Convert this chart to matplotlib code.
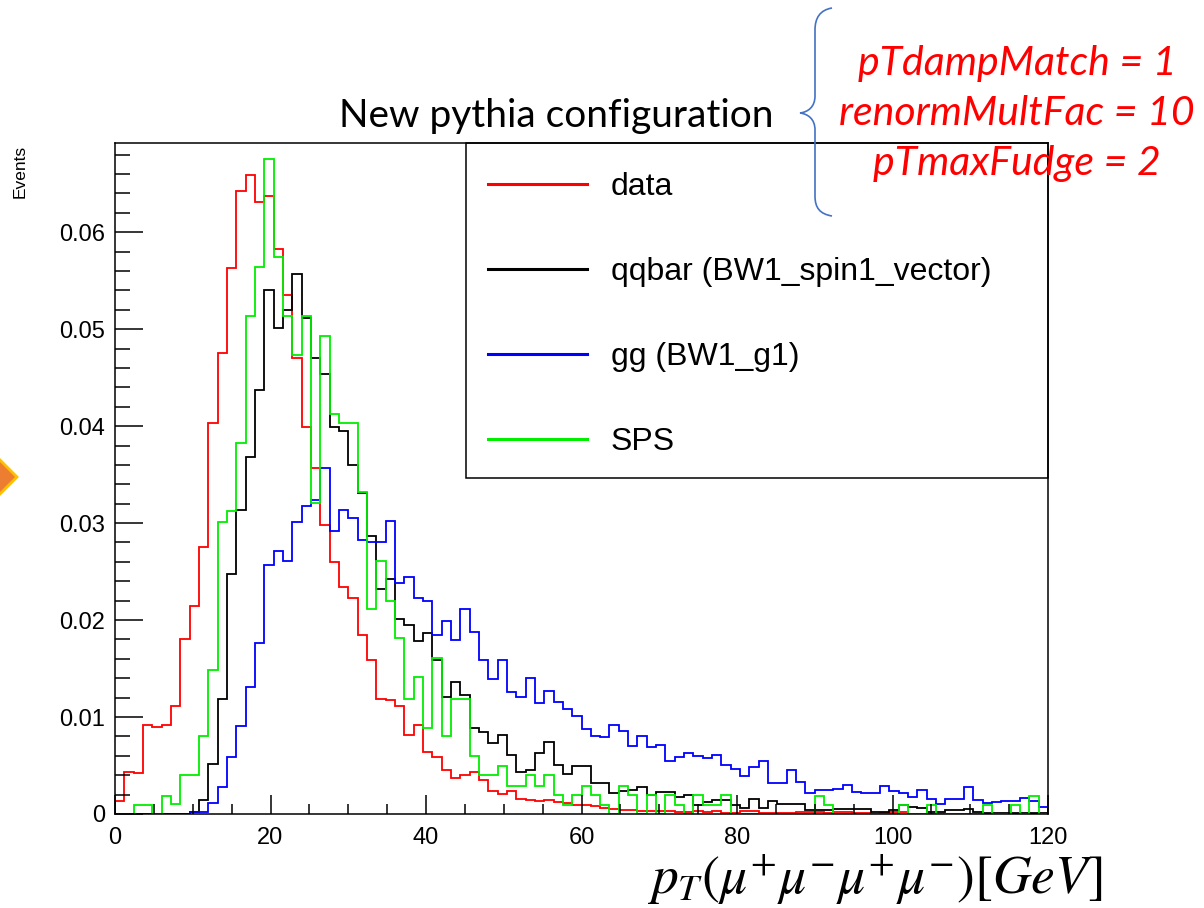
import numpy as np
import matplotlib
matplotlib.use("Agg")
import matplotlib.pyplot as plt
from matplotlib.lines import Line2D
from matplotlib.patches import Rectangle, Polygon, PathPatch
from matplotlib.path import Path
from matplotlib.ticker import MultipleLocator, FuncFormatter

plt.rcParams['font.family'] = ['Liberation Sans', 'DejaVu Sans']
plt.rcParams['mathtext.fontset'] = 'stix'

# 100 bins of 1.2 GeV between 0 and 120 GeV
bin_edges = np.linspace(0, 120, 101)

data = [
    0.0013, 0.0043, 0.0042, 0.0092, 0.0090, 0.0092, 0.0111, 0.0180, 0.0214, 0.0275,
    0.0403, 0.0475, 0.0563, 0.0643, 0.0659, 0.0631, 0.0637, 0.0583, 0.0535, 0.0470,
    0.0399, 0.0357, 0.0298, 0.0260, 0.0234, 0.0223, 0.0185, 0.0159, 0.0119, 0.0118,
    0.0111, 0.0081, 0.0092, 0.0064, 0.0059, 0.0045, 0.0037, 0.0040, 0.0043, 0.0035,
    0.0024, 0.0021, 0.0024, 0.0015, 0.0014, 0.0013, 0.0014, 0.0012, 0.0011, 0.0009,
    0.0009, 0.0008, 0.0006, 0.0005, 0.0004, 0.0004, 0.0003, 0.0003, 0.0003, 0.0003,
    0.0002, 0.0002, 0.0003, 0.0002, 0.0003, 0.0001, 0.0001, 0.0003, 0.0003, 0.0001,
    0.0001, 0.0001, 0.0001, 0.0002, 0.0002, 0.0002, 0.0001, 0.0002, 0.0002, 0.0001,
    0.0001, 0.0, 0.0001, 0.0002, 0.0002, 0.0, 0.0, 0.0, 0.0, 0.0,
    0.0, 0.0, 0.0, 0.0, 0.0, 0.0, 0.0, 0.0, 0.0, 0.0,
]

qqbar = [
    0.0, 0.0, 0.0, 0.0, 0.0, 0.0, 0.0, 0.0, 0.0002, 0.0014,
    0.0052, 0.0119, 0.0247, 0.0313, 0.0368, 0.0437, 0.0540, 0.0501, 0.0520, 0.0557,
    0.0512, 0.0470, 0.0454, 0.0399, 0.0395, 0.0360, 0.0331, 0.0287, 0.0232, 0.0242,
    0.0201, 0.0195, 0.0178, 0.0187, 0.0159, 0.0121, 0.0136, 0.0123, 0.0089, 0.0085,
    0.0073, 0.0081, 0.0061, 0.0043, 0.0045, 0.0063, 0.0074, 0.0051, 0.0041, 0.0049,
    0.0050, 0.0032, 0.0032, 0.0022, 0.0024, 0.0025, 0.0028, 0.0020, 0.0023, 0.0023,
    0.0018, 0.0020, 0.0009, 0.0012, 0.0014, 0.0014, 0.0009, 0.0006, 0.0015, 0.0006,
    0.0013, 0.0010, 0.0010, 0.0010, 0.0004, 0.0004, 0.0004, 0.0005, 0.0005, 0.0005,
    0.0005, 0.0002, 0.0002, 0.0004, 0.0009, 0.0007, 0.0006, 0.0002, 0.0002, 0.0004,
    0.0004, 0.0005, 0.0002, 0.0001, 0.0001, 0.0001, 0.0001, 0.0001, 0.0001, 0.0001,
]

gg = [
    0.0, 0.0, 0.0, 0.0, 0.0, 0.0, 0.0, 0.0, 0.0002, 0.0002,
    0.0011, 0.0028, 0.0059, 0.0091, 0.0131, 0.0176, 0.0257, 0.0271, 0.0261, 0.0301,
    0.0318, 0.0324, 0.0357, 0.0292, 0.0313, 0.0305, 0.0283, 0.0281, 0.0281, 0.0302,
    0.0238, 0.0244, 0.0223, 0.0220, 0.0185, 0.0199, 0.0179, 0.0211, 0.0188, 0.0159,
    0.0139, 0.0159, 0.0126, 0.0121, 0.0140, 0.0114, 0.0127, 0.0116, 0.0108, 0.0101,
    0.0088, 0.0080, 0.0079, 0.0092, 0.0086, 0.0070, 0.0080, 0.0069, 0.0071, 0.0055,
    0.0059, 0.0063, 0.0060, 0.0058, 0.0061, 0.0051, 0.0046, 0.0039, 0.0048, 0.0055,
    0.0032, 0.0032, 0.0045, 0.0033, 0.0022, 0.0025, 0.0025, 0.0026, 0.0030, 0.0023,
    0.0022, 0.0022, 0.0029, 0.0024, 0.0022, 0.0018, 0.0025, 0.0015, 0.0010, 0.0015,
    0.0015, 0.0028, 0.0014, 0.0011, 0.0012, 0.0013, 0.0013, 0.0017, 0.0013, 0.0007,
]

sps = [
    0.0, 0.0, 0.0009, 0.0009, 0.0, 0.0019, 0.0010, 0.0040, 0.0040, 0.0080,
    0.0149, 0.0301, 0.0312, 0.0383, 0.0514, 0.0564, 0.0675, 0.0574, 0.0514, 0.0473,
    0.0514, 0.0321, 0.0493, 0.0413, 0.0403, 0.0403, 0.0332, 0.0211, 0.0261, 0.0220,
    0.0181, 0.0119, 0.0141, 0.0089, 0.0161, 0.0080, 0.0119, 0.0119, 0.0060, 0.0040,
    0.0040, 0.0049, 0.0029, 0.0029, 0.0040, 0.0029, 0.0040, 0.0020, 0.0009, 0.0020,
    0.0029, 0.0020, 0.0009, 0.0, 0.0029, 0.0020, 0.0, 0.0020, 0.0, 0.0020,
    0.0009, 0.0, 0.0020, 0.0009, 0.0009, 0.0020, 0.0, 0.0, 0.0, 0.0,
    0.0, 0.0, 0.0, 0.0, 0.0, 0.0019, 0.0009, 0.0, 0.0, 0.0,
    0.0, 0.0, 0.0, 0.0, 0.0009, 0.0, 0.0, 0.0009, 0.0, 0.0,
    0.0, 0.0, 0.0, 0.0009, 0.0, 0.0, 0.0009, 0.0, 0.0019, 0.0,
]

labels = ["data", "qqbar (BW1_spin1_vector)", "gg (BW1_g1)", "SPS"]
colors = ["#ff0000", "#000000", "#0000ff", "#00ee00"]

W, H = 1204, 908
fig = plt.figure(figsize=(W / 100, H / 100), dpi=100)
ax = fig.add_axes([115 / W, 1 - 814 / H, 933 / W, 671 / H])


def fpos(x, y):
    # pixel position in the picture -> figure fraction
    return (x / W, 1 - y / H)


for vals, col in zip([data, qqbar, gg, sps], colors):
    ax.stairs(vals, bin_edges, color=col, linewidth=1.3, baseline=0)

ax.set_xlim(0, 120)
ax.set_ylim(0, 0.0692)
ax.xaxis.set_major_locator(MultipleLocator(20))
ax.xaxis.set_minor_locator(MultipleLocator(5))
ax.yaxis.set_major_locator(MultipleLocator(0.01))
ax.yaxis.set_minor_locator(MultipleLocator(0.002))
ax.yaxis.set_major_formatter(FuncFormatter(lambda v, p: "0" if abs(v) < 1e-9 else f"{v:.2f}"))
ax.tick_params(axis="both", which="both", direction="in", width=1.1, labelsize=17)
ax.tick_params(axis="y", which="major", length=20, pad=7)
ax.tick_params(axis="y", which="minor", length=11)
ax.tick_params(axis="x", which="major", length=14, pad=9)
ax.tick_params(axis="x", which="minor", length=7)
for sp in ax.spines.values():
    sp.set_linewidth(1.1)

# legend box (ROOT style, sharing the frame's top and right edge)
ax.add_patch(Rectangle((0.376, 0.5007), 0.624, 0.4993, transform=ax.transAxes,
                       fill=False, edgecolor="black", linewidth=1.1, clip_on=False))
handles = [Line2D([], [], color=c, linewidth=2.2) for c in colors]
ax.legend(handles, labels, loc="center left", bbox_to_anchor=(0.3998, 0.7445),
          frameon=False, fontsize=23, borderpad=0, borderaxespad=0,
          handlelength=3.1, handletextpad=0.75, labelspacing=1.72)

fig.text(*fpos(20, 145), "Events", rotation=90, ha="center", va="top", fontsize=12.5)

fig.text(*fpos(875, 894), r"$p_T(\mu^{+}\mu^{-}\mu^{+}\mu^{-})[GeV]$",
         ha="center", va="baseline", fontsize=38.5)

fig.text(*fpos(556, 127), "New pythia configuration", ha="center", va="baseline",
         fontsize=28, family=["Lato", "DejaVu Sans"])

for txt, yb in [("pTdampMatch = 1", 75), ("renormMultFac = 10", 125), ("pTmaxFudge = 2", 175)]:
    fig.text(*fpos(1017, yb), txt, ha="center", va="baseline", fontsize=29.5,
             style="italic", color="#ff0000", family=["Lato", "DejaVu Sans"])

# curly brace
brace_pts = [(832, 8), (820, 10), (815, 18), (815, 30), (815, 96),
             (815, 107), (808, 112), (800, 113), (808, 114), (815, 119), (815, 130),
             (815, 196), (815, 208), (820, 214), (832, 216)]
codes = [Path.MOVETO, Path.CURVE4, Path.CURVE4, Path.CURVE4, Path.LINETO,
         Path.CURVE4, Path.CURVE4, Path.CURVE4, Path.CURVE4, Path.CURVE4, Path.CURVE4,
         Path.LINETO, Path.CURVE4, Path.CURVE4, Path.CURVE4]
brace = Path([fpos(x, y) for x, y in brace_pts], codes)
fig.patches.append(PathPatch(brace, transform=fig.transFigure, fill=False,
                             edgecolor="#4472c4", linewidth=1.2))

# orange arrow tip at the left edge
fig.patches.append(Polygon([fpos(-25, 435), fpos(17, 477), fpos(-25, 519)], closed=True,
                           transform=fig.transFigure, facecolor="#ed7d31",
                           edgecolor="#ffc000", linewidth=2))

fig.savefig("out.png", dpi=100)
